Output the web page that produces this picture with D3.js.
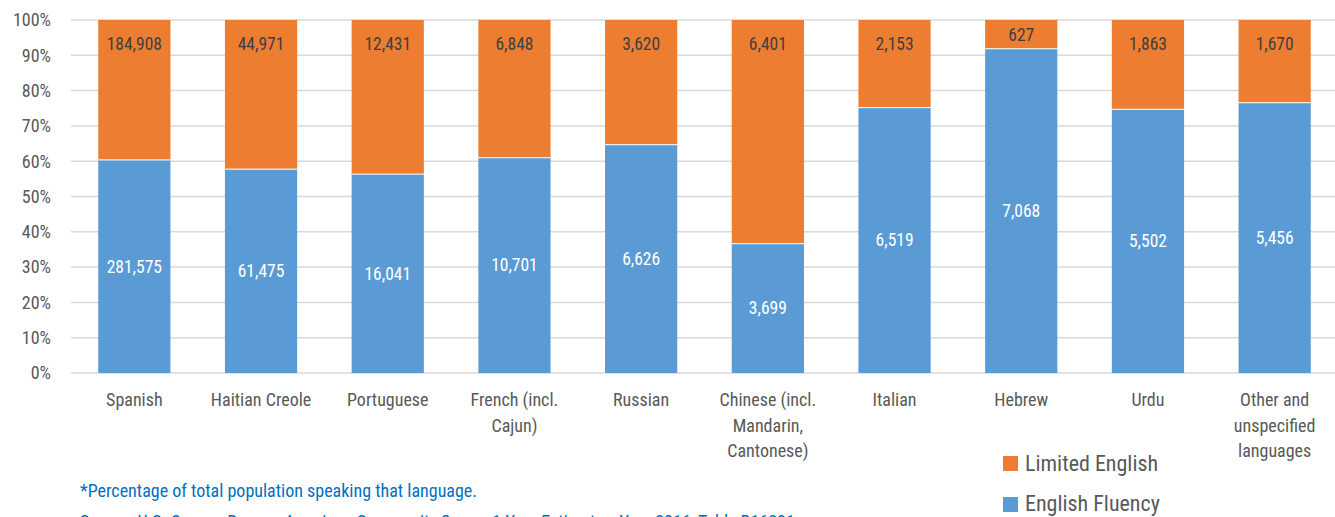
<!DOCTYPE html>
<html>
<head>
<meta charset="utf-8">
<script src="https://cdn.jsdelivr.net/npm/d3@7"></script>
<style>
  body { margin: 0; background: #fff; }
  svg { display: block; font-family: "Roboto Condensed", "Liberation Sans Narrow", Roboto, sans-serif; }
</style>
</head>
<body>
<svg id="chart" width="1335" height="517"></svg>
<script>
// data
const languages = [
  ["Spanish"],
  ["Haitian Creole"],
  ["Portuguese"],
  ["French (incl.", "Cajun)"],
  ["Russian"],
  ["Chinese (incl.", "Mandarin,", "Cantonese)"],
  ["Italian"],
  ["Hebrew"],
  ["Urdu"],
  ["Other and", "unspecified", "languages"]
];
const fluency = [281575, 61475, 16041, 10701, 6626, 3699, 6519, 7068, 5502, 5456];
const limited = [184908, 44971, 12431, 6848, 3620, 6401, 2153, 627, 1863, 1670];
const yTicks = [0, 0.1, 0.2, 0.3, 0.4, 0.5, 0.6, 0.7, 0.8, 0.9, 1];

const blue = "#5b9bd5", orange = "#ed7d31";
const fmt = d3.format(",");

const svg = d3.select("#chart");
const plotLeft = 71, plotRight = 1338, plotTop = 20, plotBottom = 373;

const rows = languages.map((l, i) => {
  const total = fluency[i] + limited[i];
  return { key: l.join(" "), lines: l, fl: fluency[i], lim: limited[i], pf: fluency[i] / total };
});

const x = d3.scaleBand()
  .domain(rows.map(d => d.key))
  .range([plotLeft, plotRight])
  .paddingInner(0.43)
  .paddingOuter(0.215);

const y = d3.scaleLinear().domain([0, 1]).range([plotBottom, plotTop]);

// gridlines
svg.append("g")
  .selectAll("line")
  .data(yTicks)
  .join("line")
  .attr("x1", plotLeft).attr("x2", plotRight)
  .attr("y1", d => y(d)).attr("y2", d => y(d))
  .attr("stroke", "#d9d9d9")
  .attr("stroke-width", 1.5);

// y tick labels
svg.append("g")
  .selectAll("text")
  .data(yTicks)
  .join("text")
  .attr("x", 51)
  .attr("y", d => y(d))
  .attr("dy", "0.35em")
  .attr("text-anchor", "end")
  .attr("fill", "#595959")
  .style("font-size", "18px")
  .text(d3.format(".0%"));

const bars = svg.append("g");

// english fluency (bottom)
bars.selectAll(".fl")
  .data(rows)
  .join("rect")
  .attr("class", "fl")
  .attr("x", d => x(d.key))
  .attr("width", x.bandwidth())
  .attr("y", d => y(d.pf))
  .attr("height", d => y(0) - y(d.pf))
  .attr("fill", blue);

// limited english (top)
bars.selectAll(".lim")
  .data(rows)
  .join("rect")
  .attr("class", "lim")
  .attr("x", d => x(d.key))
  .attr("width", x.bandwidth())
  .attr("y", y(1))
  .attr("height", d => y(d.pf) - y(1))
  .attr("fill", orange);

// separator between segments
bars.selectAll(".sep")
  .data(rows)
  .join("line")
  .attr("class", "sep")
  .attr("x1", d => x(d.key)).attr("x2", d => x(d.key) + x.bandwidth())
  .attr("y1", d => y(d.pf)).attr("y2", d => y(d.pf))
  .attr("stroke", "#fff")
  .attr("stroke-width", 1);

// value labels
svg.append("g")
  .selectAll("text")
  .data(rows)
  .join("text")
  .attr("x", d => x(d.key) + x.bandwidth() / 2)
  .attr("y", d => (y(d.pf) + y(0)) / 2)
  .attr("dy", "0.35em")
  .attr("text-anchor", "middle")
  .attr("fill", "#fff")
  .style("font-size", "17.5px")
  .text(d => fmt(d.fl));

svg.append("g")
  .selectAll("text")
  .data(rows)
  .join("text")
  .attr("x", d => x(d.key) + x.bandwidth() / 2)
  .attr("y", d => Math.min((y(1) + y(d.pf)) / 2, y(1) + 24))
  .attr("dy", "0.35em")
  .attr("text-anchor", "middle")
  .attr("fill", "#404040")
  .style("font-size", "17.5px")
  .text(d => fmt(d.lim));

// category labels
const cat = svg.append("g")
  .selectAll("text")
  .data(rows)
  .join("text")
  .attr("x", d => x(d.key) + x.bandwidth() / 2)
  .attr("y", 400)
  .attr("text-anchor", "middle")
  .attr("fill", "#595959")
  .style("font-size", "18px");

cat.selectAll("tspan")
  .data(d => d.lines.map(t => ({ t, cx: x(d.key) + x.bandwidth() / 2 })))
  .join("tspan")
  .attr("x", d => d.cx)
  .attr("dy", (d, i) => i === 0 ? "0.35em" : "25.5px")
  .text(d => d.t);

// legend
const legend = svg.append("g").attr("transform", "translate(1003,456)");
const legendItems = [
  { name: "Limited English", color: orange },
  { name: "English Fluency", color: blue }
];
legend.selectAll("rect")
  .data(legendItems)
  .join("rect")
  .attr("x", 0)
  .attr("y", (d, i) => i * 41)
  .attr("width", 15).attr("height", 15)
  .attr("fill", d => d.color);
legend.selectAll("text")
  .data(legendItems)
  .join("text")
  .attr("x", 22)
  .attr("y", (d, i) => i * 40 + 7.5)
  .attr("dy", "0.35em")
  .attr("fill", "#595959")
  .style("font-size", "22px")
  .text(d => d.name);

// footnotes
svg.append("text")
  .attr("x", 80).attr("y", 491)
  .attr("dy", "0.35em")
  .attr("fill", "#0070c0")
  .style("font-size", "18px")
  .text("*Percentage of total population speaking that language.");

svg.append("text")
  .attr("x", 80).attr("y", 522)
  .attr("dy", "0.35em")
  .attr("fill", "#0070c0")
  .style("font-size", "18px")
  .text("Source:  U.S. Census Bureau, American Community Survey 1-Year Estimates, Year 2016, Table B16001");
</script>
</body>
</html>
